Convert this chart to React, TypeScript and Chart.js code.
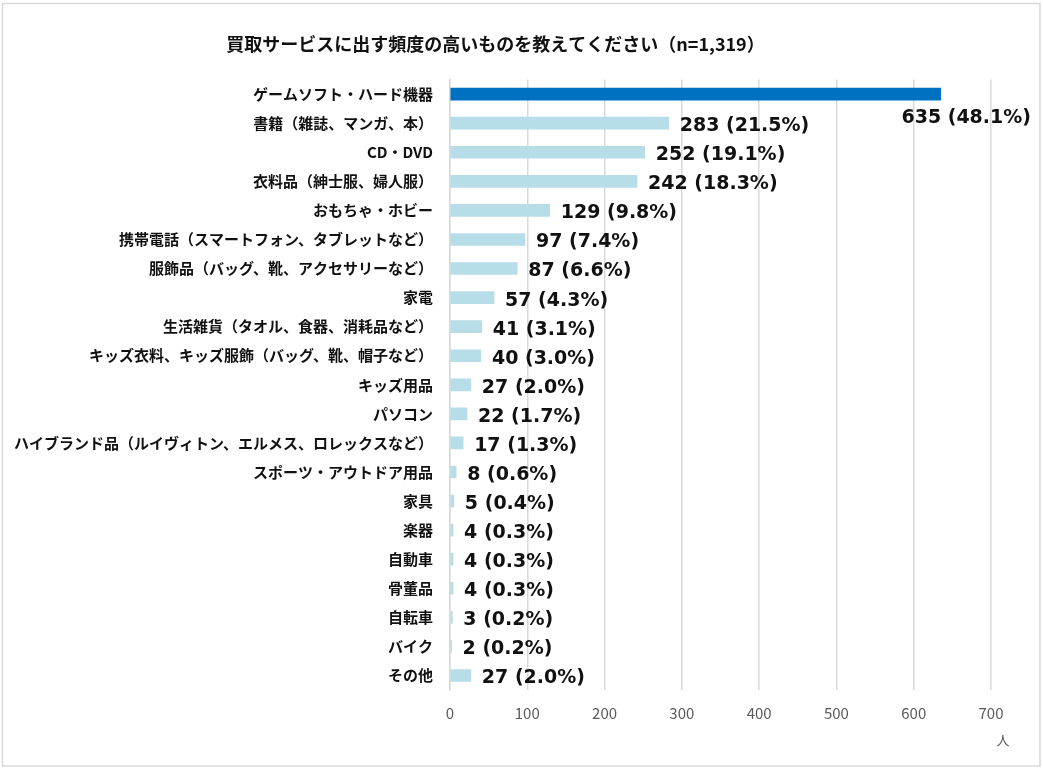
import React, { useEffect, useRef } from 'react'
import { Chart, registerables } from 'chart.js'

Chart.register(...registerables)

const categories = [
	'ゲームソフト・ハード機器',
	'書籍（雑誌、マンガ、本）',
	'CD・DVD',
	'衣料品（紳士服、婦人服）',
	'おもちゃ・ホビー',
	'携帯電話（スマートフォン、タブレットなど）',
	'服飾品（バッグ、靴、アクセサリーなど）',
	'家電',
	'生活雑貨（タオル、食器、消耗品など）',
	'キッズ衣料、キッズ服飾（バッグ、靴、帽子など）',
	'キッズ用品',
	'パソコン',
	'ハイブランド品（ルイヴィトン、エルメス、ロレックスなど）',
	'スポーツ・アウトドア用品',
	'家具',
	'楽器',
	'自動車',
	'骨董品',
	'自転車',
	'バイク',
	'その他',
]

const counts = [635, 283, 252, 242, 129, 97, 87, 57, 41, 40, 27, 22, 17, 8, 5, 4, 4, 4, 3, 2, 27]

const shares = [
	'48.1%', '21.5%', '19.1%', '18.3%', '9.8%', '7.4%', '6.6%', '4.3%', '3.1%', '3.0%', '2.0%',
	'1.7%', '1.3%', '0.6%', '0.4%', '0.3%', '0.3%', '0.3%', '0.2%', '0.2%', '2.0%',
]

const xTicks = [0, 100, 200, 300, 400, 500, 600, 700]

const JP = '"Noto Sans CJK JP", "Noto Sans", sans-serif'

const extras = {
	id: 'extras',
	beforeDraw(chart: Chart) {
		const { ctx } = chart
		ctx.save()
		ctx.fillStyle = '#fff'
		ctx.fillRect(0, 0, chart.width, chart.height)
		ctx.strokeStyle = '#D9D9D9'
		ctx.lineWidth = 1.5
		ctx.strokeRect(2.5, 3.5, 1037.5, 762.5)
		ctx.restore()
	},
	afterDatasetsDraw(chart: Chart) {
		const { ctx } = chart
		const meta = chart.getDatasetMeta(0)
		ctx.save()
		ctx.fillStyle = '#111'
		ctx.font = 'bold 19px "DejaVu Sans", sans-serif'
		ctx.textBaseline = 'middle'
		meta.data.forEach((bar: any, i: number) => {
			const text = `${counts[i]} (${shares[i]})`
			if (i === 0) {
				ctx.textAlign = 'right'
				ctx.fillText(text, chart.chartArea.right + 40, bar.y + 24)
			} else {
				ctx.textAlign = 'left'
				ctx.fillText(text, bar.x + 11, bar.y + 3)
			}
		})
		ctx.fillStyle = '#595959'
		ctx.font = `13px ${JP}`
		ctx.textAlign = 'center'
		ctx.fillText('人', chart.chartArea.right + 12, 740)
		ctx.restore()
	},
}

export default function App() {
	const canvasRef = useRef<HTMLCanvasElement>(null)

	useEffect(() => {
		document.body.style.margin = '0'
		if (!canvasRef.current) return
		const chart = new Chart(canvasRef.current, {
			type: 'bar',
			data: {
				labels: categories,
				datasets: [
					{
						data: counts,
						backgroundColor: counts.map((_, i) => (i === 0 ? '#0070C0' : '#B7DDE8')),
						barThickness: 12,
					},
				],
			},
			options: {
				indexAxis: 'y',
				animation: false,
				responsive: false,
				layout: { padding: { left: 0, right: 52, top: 0, bottom: 34 } },
				plugins: {
					legend: { display: false },
					tooltip: { enabled: false },
					title: {
						display: true,
						text: '買取サービスに出す頻度の高いものを教えてください（n=1,319）',
						color: '#111',
						font: { family: JP, size: 18, weight: 'bold' },
						padding: { top: 33, bottom: 25 },
					},
				},
				scales: {
					x: {
						min: 0,
						max: 700,
						afterBuildTicks: (scale: any) => {
							scale.ticks = xTicks.map((v) => ({ value: v }))
						},
						grid: { color: '#D9D9D9', lineWidth: 1.5, drawTicks: false },
						border: { display: false },
						ticks: {
							color: '#595959',
							font: { family: JP, size: 15 },
							padding: 14,
						},
					},
					y: {
						afterFit: (scale: any) => {
							scale.width = 450
						},
						grid: { display: false, drawTicks: false },
						border: { display: true, color: '#D9D9D9', width: 1.5 },
						ticks: {
							color: '#111',
							font: { family: JP, size: 15, weight: 'bold' },
							padding: 17,
							autoSkip: false,
						},
					},
				},
			},
			plugins: [extras],
		})
		return () => {
			chart.destroy()
		}
	}, [])

	return <canvas ref={canvasRef} width={1043} height={770} style={{ display: 'block' }} />
}
